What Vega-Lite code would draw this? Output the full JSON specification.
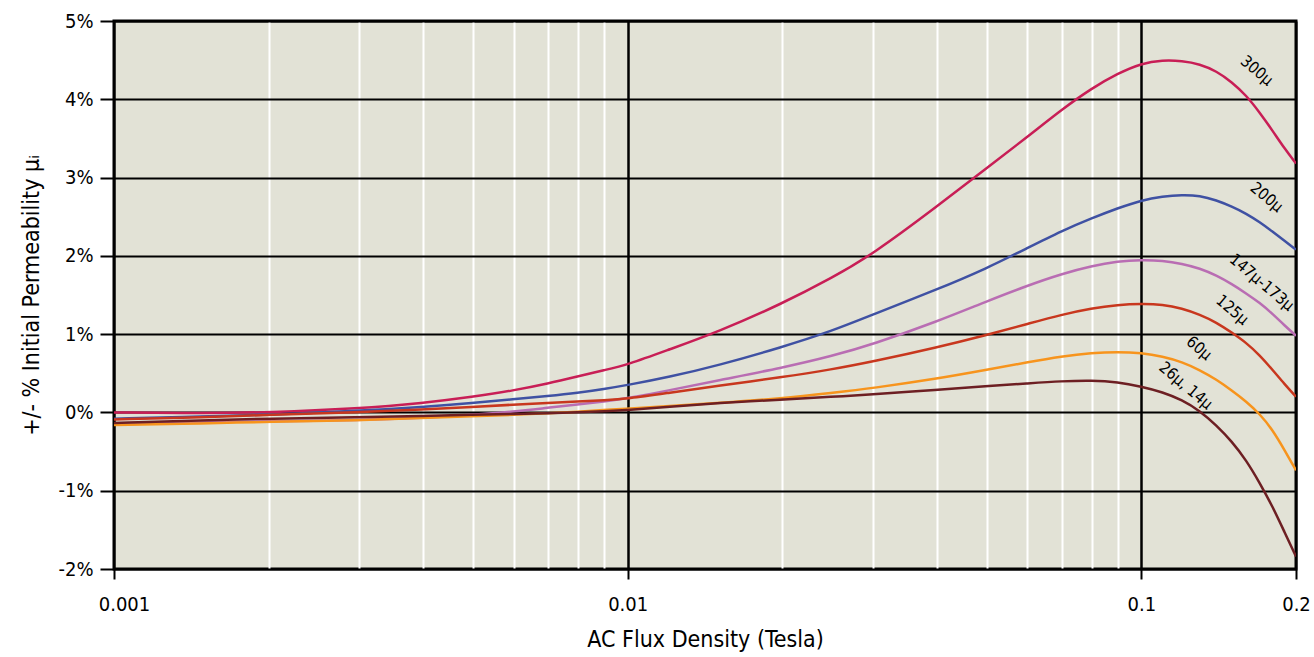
{
  "$schema": "https://vega.github.io/schema/vega-lite/v6.json",
  "autosize": {"type": "none"},
  "padding": {"left": 114, "top": 21, "right": 18, "bottom": 88},
  "width": 1182,
  "height": 548,
  "background": "white",
  "config": {
    "view": {"fill": "#e2e2d6", "stroke": "black", "strokeWidth": 3},
    "font": "DejaVu Sans Condensed, Liberation Sans Narrow, sans-serif"
  },
  "datasets": {
    "curves": [
      {"series": "300μ", "B": 0.001, "pct": 0.0},
      {"series": "300μ", "B": 0.0015, "pct": -0.01},
      {"series": "300μ", "B": 0.002, "pct": 0.0},
      {"series": "300μ", "B": 0.003, "pct": 0.05},
      {"series": "300μ", "B": 0.004, "pct": 0.12},
      {"series": "300μ", "B": 0.005, "pct": 0.2},
      {"series": "300μ", "B": 0.006, "pct": 0.28},
      {"series": "300μ", "B": 0.007, "pct": 0.37},
      {"series": "300μ", "B": 0.008, "pct": 0.46},
      {"series": "300μ", "B": 0.009, "pct": 0.54},
      {"series": "300μ", "B": 0.01, "pct": 0.61},
      {"series": "300μ", "B": 0.012, "pct": 0.8},
      {"series": "300μ", "B": 0.015, "pct": 1.03},
      {"series": "300μ", "B": 0.02, "pct": 1.39},
      {"series": "300μ", "B": 0.025, "pct": 1.72},
      {"series": "300μ", "B": 0.03, "pct": 2.02},
      {"series": "300μ", "B": 0.04, "pct": 2.63},
      {"series": "300μ", "B": 0.05, "pct": 3.12},
      {"series": "300μ", "B": 0.06, "pct": 3.52},
      {"series": "300μ", "B": 0.07, "pct": 3.87},
      {"series": "300μ", "B": 0.08, "pct": 4.14},
      {"series": "300μ", "B": 0.09, "pct": 4.33},
      {"series": "300μ", "B": 0.1, "pct": 4.46},
      {"series": "300μ", "B": 0.11, "pct": 4.5},
      {"series": "300μ", "B": 0.12, "pct": 4.49},
      {"series": "300μ", "B": 0.13, "pct": 4.45},
      {"series": "300μ", "B": 0.14, "pct": 4.36},
      {"series": "300μ", "B": 0.15, "pct": 4.22},
      {"series": "300μ", "B": 0.16, "pct": 4.05},
      {"series": "300μ", "B": 0.17, "pct": 3.83},
      {"series": "300μ", "B": 0.18, "pct": 3.6},
      {"series": "300μ", "B": 0.19, "pct": 3.37},
      {"series": "300μ", "B": 0.2, "pct": 3.18},
      {"series": "200μ", "B": 0.001, "pct": -0.08},
      {"series": "200μ", "B": 0.0015, "pct": -0.05},
      {"series": "200μ", "B": 0.002, "pct": -0.03},
      {"series": "200μ", "B": 0.003, "pct": 0.02},
      {"series": "200μ", "B": 0.004, "pct": 0.07},
      {"series": "200μ", "B": 0.005, "pct": 0.12},
      {"series": "200μ", "B": 0.006, "pct": 0.17},
      {"series": "200μ", "B": 0.007, "pct": 0.21},
      {"series": "200μ", "B": 0.008, "pct": 0.25},
      {"series": "200μ", "B": 0.009, "pct": 0.3},
      {"series": "200μ", "B": 0.01, "pct": 0.35},
      {"series": "200μ", "B": 0.012, "pct": 0.45},
      {"series": "200μ", "B": 0.015, "pct": 0.6},
      {"series": "200μ", "B": 0.02, "pct": 0.835},
      {"series": "200μ", "B": 0.025, "pct": 1.04},
      {"series": "200μ", "B": 0.03, "pct": 1.25},
      {"series": "200μ", "B": 0.04, "pct": 1.57},
      {"series": "200μ", "B": 0.05, "pct": 1.84},
      {"series": "200μ", "B": 0.06, "pct": 2.1},
      {"series": "200μ", "B": 0.07, "pct": 2.32},
      {"series": "200μ", "B": 0.08, "pct": 2.48},
      {"series": "200μ", "B": 0.09, "pct": 2.61},
      {"series": "200μ", "B": 0.1, "pct": 2.71},
      {"series": "200μ", "B": 0.11, "pct": 2.76},
      {"series": "200μ", "B": 0.12, "pct": 2.78},
      {"series": "200μ", "B": 0.13, "pct": 2.77},
      {"series": "200μ", "B": 0.14, "pct": 2.71},
      {"series": "200μ", "B": 0.15, "pct": 2.63},
      {"series": "200μ", "B": 0.16, "pct": 2.54},
      {"series": "200μ", "B": 0.17, "pct": 2.43},
      {"series": "200μ", "B": 0.18, "pct": 2.31},
      {"series": "200μ", "B": 0.19, "pct": 2.19},
      {"series": "200μ", "B": 0.2, "pct": 2.08},
      {"series": "147μ-173μ", "B": 0.001, "pct": -0.15},
      {"series": "147μ-173μ", "B": 0.0015, "pct": -0.13},
      {"series": "147μ-173μ", "B": 0.002, "pct": -0.11},
      {"series": "147μ-173μ", "B": 0.003, "pct": -0.1},
      {"series": "147μ-173μ", "B": 0.004, "pct": -0.07},
      {"series": "147μ-173μ", "B": 0.005, "pct": -0.03},
      {"series": "147μ-173μ", "B": 0.006, "pct": 0.01},
      {"series": "147μ-173μ", "B": 0.007, "pct": 0.06},
      {"series": "147μ-173μ", "B": 0.008, "pct": 0.1},
      {"series": "147μ-173μ", "B": 0.009, "pct": 0.14},
      {"series": "147μ-173μ", "B": 0.01, "pct": 0.18},
      {"series": "147μ-173μ", "B": 0.012, "pct": 0.28},
      {"series": "147μ-173μ", "B": 0.015, "pct": 0.41},
      {"series": "147μ-173μ", "B": 0.02, "pct": 0.57},
      {"series": "147μ-173μ", "B": 0.025, "pct": 0.72},
      {"series": "147μ-173μ", "B": 0.03, "pct": 0.87},
      {"series": "147μ-173μ", "B": 0.04, "pct": 1.16},
      {"series": "147μ-173μ", "B": 0.05, "pct": 1.42},
      {"series": "147μ-173μ", "B": 0.06, "pct": 1.62},
      {"series": "147μ-173μ", "B": 0.07, "pct": 1.77},
      {"series": "147μ-173μ", "B": 0.08, "pct": 1.87},
      {"series": "147μ-173μ", "B": 0.09, "pct": 1.93},
      {"series": "147μ-173μ", "B": 0.1, "pct": 1.95},
      {"series": "147μ-173μ", "B": 0.11, "pct": 1.94},
      {"series": "147μ-173μ", "B": 0.12, "pct": 1.9},
      {"series": "147μ-173μ", "B": 0.13, "pct": 1.84},
      {"series": "147μ-173μ", "B": 0.14, "pct": 1.75},
      {"series": "147μ-173μ", "B": 0.15, "pct": 1.64},
      {"series": "147μ-173μ", "B": 0.16, "pct": 1.52},
      {"series": "147μ-173μ", "B": 0.17, "pct": 1.4},
      {"series": "147μ-173μ", "B": 0.18, "pct": 1.26},
      {"series": "147μ-173μ", "B": 0.19, "pct": 1.11},
      {"series": "147μ-173μ", "B": 0.2, "pct": 0.98},
      {"series": "125μ", "B": 0.001, "pct": -0.09},
      {"series": "125μ", "B": 0.0015, "pct": -0.06},
      {"series": "125μ", "B": 0.002, "pct": -0.03},
      {"series": "125μ", "B": 0.003, "pct": 0.0},
      {"series": "125μ", "B": 0.004, "pct": 0.04},
      {"series": "125μ", "B": 0.005, "pct": 0.07},
      {"series": "125μ", "B": 0.006, "pct": 0.1},
      {"series": "125μ", "B": 0.007, "pct": 0.12},
      {"series": "125μ", "B": 0.008, "pct": 0.14},
      {"series": "125μ", "B": 0.009, "pct": 0.155},
      {"series": "125μ", "B": 0.01, "pct": 0.175},
      {"series": "125μ", "B": 0.012, "pct": 0.25},
      {"series": "125μ", "B": 0.015, "pct": 0.34},
      {"series": "125μ", "B": 0.02, "pct": 0.45},
      {"series": "125μ", "B": 0.025, "pct": 0.55},
      {"series": "125μ", "B": 0.03, "pct": 0.65},
      {"series": "125μ", "B": 0.04, "pct": 0.83},
      {"series": "125μ", "B": 0.05, "pct": 0.99},
      {"series": "125μ", "B": 0.06, "pct": 1.13},
      {"series": "125μ", "B": 0.07, "pct": 1.25},
      {"series": "125μ", "B": 0.08, "pct": 1.33},
      {"series": "125μ", "B": 0.09, "pct": 1.375},
      {"series": "125μ", "B": 0.1, "pct": 1.39},
      {"series": "125μ", "B": 0.11, "pct": 1.38},
      {"series": "125μ", "B": 0.12, "pct": 1.33},
      {"series": "125μ", "B": 0.13, "pct": 1.25},
      {"series": "125μ", "B": 0.14, "pct": 1.15},
      {"series": "125μ", "B": 0.15, "pct": 1.02},
      {"series": "125μ", "B": 0.16, "pct": 0.89},
      {"series": "125μ", "B": 0.17, "pct": 0.73},
      {"series": "125μ", "B": 0.18, "pct": 0.545},
      {"series": "125μ", "B": 0.19, "pct": 0.36},
      {"series": "125μ", "B": 0.2, "pct": 0.2},
      {"series": "60μ", "B": 0.001, "pct": -0.16},
      {"series": "60μ", "B": 0.0015, "pct": -0.14},
      {"series": "60μ", "B": 0.002, "pct": -0.12},
      {"series": "60μ", "B": 0.003, "pct": -0.1},
      {"series": "60μ", "B": 0.004, "pct": -0.07},
      {"series": "60μ", "B": 0.005, "pct": -0.05},
      {"series": "60μ", "B": 0.006, "pct": -0.03},
      {"series": "60μ", "B": 0.007, "pct": -0.01},
      {"series": "60μ", "B": 0.008, "pct": 0.01},
      {"series": "60μ", "B": 0.009, "pct": 0.03},
      {"series": "60μ", "B": 0.01, "pct": 0.05},
      {"series": "60μ", "B": 0.012, "pct": 0.08},
      {"series": "60μ", "B": 0.015, "pct": 0.12},
      {"series": "60μ", "B": 0.02, "pct": 0.18},
      {"series": "60μ", "B": 0.025, "pct": 0.25},
      {"series": "60μ", "B": 0.03, "pct": 0.31},
      {"series": "60μ", "B": 0.04, "pct": 0.43},
      {"series": "60μ", "B": 0.05, "pct": 0.545},
      {"series": "60μ", "B": 0.06, "pct": 0.64},
      {"series": "60μ", "B": 0.07, "pct": 0.715},
      {"series": "60μ", "B": 0.08, "pct": 0.76},
      {"series": "60μ", "B": 0.09, "pct": 0.775},
      {"series": "60μ", "B": 0.1, "pct": 0.76},
      {"series": "60μ", "B": 0.11, "pct": 0.715},
      {"series": "60μ", "B": 0.12, "pct": 0.645},
      {"series": "60μ", "B": 0.13, "pct": 0.54},
      {"series": "60μ", "B": 0.14, "pct": 0.42},
      {"series": "60μ", "B": 0.15, "pct": 0.28},
      {"series": "60μ", "B": 0.16, "pct": 0.14},
      {"series": "60μ", "B": 0.17, "pct": -0.02},
      {"series": "60μ", "B": 0.18, "pct": -0.22},
      {"series": "60μ", "B": 0.19, "pct": -0.48},
      {"series": "60μ", "B": 0.2, "pct": -0.74},
      {"series": "26μ, 14μ", "B": 0.001, "pct": -0.135},
      {"series": "26μ, 14μ", "B": 0.0015, "pct": -0.1},
      {"series": "26μ, 14μ", "B": 0.002, "pct": -0.08},
      {"series": "26μ, 14μ", "B": 0.003, "pct": -0.06},
      {"series": "26μ, 14μ", "B": 0.004, "pct": -0.045},
      {"series": "26μ, 14μ", "B": 0.005, "pct": -0.03},
      {"series": "26μ, 14μ", "B": 0.006, "pct": -0.02},
      {"series": "26μ, 14μ", "B": 0.007, "pct": -0.01},
      {"series": "26μ, 14μ", "B": 0.008, "pct": 0.0},
      {"series": "26μ, 14μ", "B": 0.009, "pct": 0.015},
      {"series": "26μ, 14μ", "B": 0.01, "pct": 0.03},
      {"series": "26μ, 14μ", "B": 0.012, "pct": 0.07},
      {"series": "26μ, 14μ", "B": 0.015, "pct": 0.12},
      {"series": "26μ, 14μ", "B": 0.02, "pct": 0.165},
      {"series": "26μ, 14μ", "B": 0.025, "pct": 0.2},
      {"series": "26μ, 14μ", "B": 0.03, "pct": 0.23},
      {"series": "26μ, 14μ", "B": 0.04, "pct": 0.29},
      {"series": "26μ, 14μ", "B": 0.05, "pct": 0.335},
      {"series": "26μ, 14μ", "B": 0.06, "pct": 0.37},
      {"series": "26μ, 14μ", "B": 0.07, "pct": 0.4},
      {"series": "26μ, 14μ", "B": 0.08, "pct": 0.41},
      {"series": "26μ, 14μ", "B": 0.09, "pct": 0.39},
      {"series": "26μ, 14μ", "B": 0.1, "pct": 0.33},
      {"series": "26μ, 14μ", "B": 0.11, "pct": 0.26},
      {"series": "26μ, 14μ", "B": 0.12, "pct": 0.16},
      {"series": "26μ, 14μ", "B": 0.13, "pct": 0.02},
      {"series": "26μ, 14μ", "B": 0.14, "pct": -0.165},
      {"series": "26μ, 14μ", "B": 0.15, "pct": -0.37},
      {"series": "26μ, 14μ", "B": 0.16, "pct": -0.61},
      {"series": "26μ, 14μ", "B": 0.17, "pct": -0.9},
      {"series": "26μ, 14μ", "B": 0.18, "pct": -1.2},
      {"series": "26μ, 14μ", "B": 0.19, "pct": -1.53},
      {"series": "26μ, 14μ", "B": 0.2, "pct": -1.84}
    ],
    "labels": [
      {"series": "300μ", "B": 0.1677, "pct": 4.365},
      {"series": "200μ", "B": 0.1753, "pct": 2.747},
      {"series": "147μ-173μ", "B": 0.1715, "pct": 1.66},
      {"series": "125μ", "B": 0.1503, "pct": 1.308},
      {"series": "60μ", "B": 0.1295, "pct": 0.819},
      {"series": "26μ, 14μ", "B": 0.122, "pct": 0.341}
    ]
  },
  "encoding": {
    "x": {
      "field": "B",
      "type": "quantitative",
      "scale": {"type": "log", "domain": [0.001, 0.2], "nice": false},
      "axis": {
        "title": "AC Flux Density (Tesla)",
        "titleFontSize": 23,
        "titleFontWeight": "normal",
        "titleColor": "black",
        "titlePadding": 14,
        "values": [0.001, 0.002, 0.003, 0.004, 0.005, 0.006, 0.007, 0.008, 0.009, 0.01, 0.02, 0.03, 0.04, 0.05, 0.06, 0.07, 0.08, 0.09, 0.1, 0.2],
        "labelExpr": "datum.value == 0.001 ? '0.001' : datum.value == 0.01 ? '0.01' : datum.value == 0.1 ? '0.1' : datum.value == 0.2 ? '0.2' : ''",
        "labelFontSize": 20,
        "labelColor": "black",
        "labelPadding": 15,
        "labelOffset": {"condition": {"test": "datum.value == 0.001", "value": 10}, "value": 0},
        "labelFlush": false,
        "labelOverlap": false,
        "domain": false,
        "tickColor": "black",
        "tickWidth": 2,
        "tickSize": 10,
        "tickOpacity": {"condition": {"test": "datum.value == 0.001 || datum.value == 0.01 || datum.value == 0.1 || datum.value == 0.2", "value": 1}, "value": 0},
        "grid": true,
        "gridColor": {"condition": {"test": "datum.value == 0.01 || datum.value == 0.1 || datum.value == 0.001 || datum.value == 0.2", "value": "black"}, "value": "white"},
        "gridWidth": {"condition": {"test": "datum.value == 0.01 || datum.value == 0.1", "value": 2.5}, "value": 2},
        "gridOpacity": 1
      }
    },
    "y": {
      "field": "pct",
      "type": "quantitative",
      "scale": {"domain": [-2, 5], "nice": false},
      "axis": {
        "title": "+/- % Initial Permeability μᵢ",
        "titleFontSize": 23,
        "titleFontWeight": "normal",
        "titleColor": "black",
        "titlePadding": 14,
        "values": [-2, -1, 0, 1, 2, 3, 4, 5],
        "labelExpr": "datum.value + '%'",
        "labelFontSize": 20,
        "labelColor": "black",
        "labelPadding": 7,
        "labelFlush": false,
        "domain": false,
        "tickColor": "black",
        "tickWidth": 2,
        "tickSize": 14,
        "grid": true,
        "gridColor": "black",
        "gridWidth": 2,
        "gridOpacity": 1
      }
    },
    "color": {
      "field": "series",
      "type": "nominal",
      "legend": null,
      "scale": {
        "domain": ["300μ", "200μ", "147μ-173μ", "125μ", "60μ", "26μ, 14μ"],
        "range": ["#c81e56", "#3f51a3", "#b96db3", "#c8371e", "#f7941d", "#6d1f23"]
      }
    }
  },
  "layer": [
    {
      "data": {"name": "curves"},
      "mark": {"type": "line", "interpolate": "basis", "strokeWidth": 2.5, "clip": true}
    },
    {
      "data": {"name": "labels"},
      "mark": {"type": "text", "angle": 40, "fontSize": 16, "color": "black", "align": "center", "baseline": "middle"},
      "encoding": {
        "text": {"field": "series"},
        "color": {"value": "black"}
      }
    }
  ]
}
